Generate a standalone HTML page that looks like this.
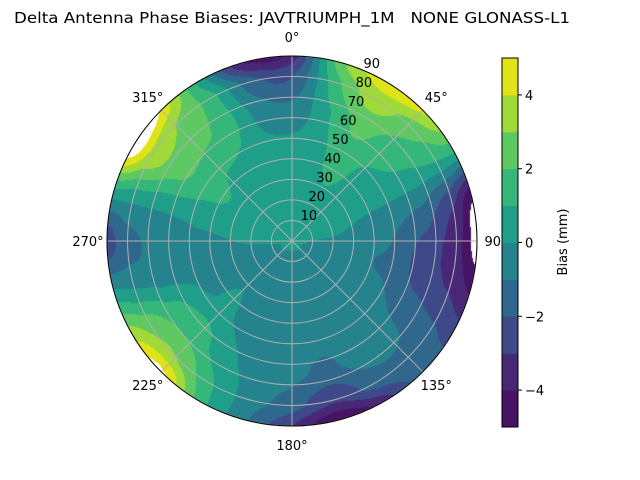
<!DOCTYPE html>
<html><head><meta charset="utf-8"><style>
html,body{margin:0;padding:0;background:#fff;}
#wrap{position:relative;width:640px;height:480px;overflow:hidden;}
canvas,svg{position:absolute;left:0;top:0;}
text{font-family:"DejaVu Sans","Liberation Sans",sans-serif;font-size:13px;fill:#000;}
</style></head><body>
<div id="wrap">
<canvas id="cv" width="640" height="480"></canvas>
<svg id="sv" width="640" height="480" xmlns="http://www.w3.org/2000/svg"></svg>
</div>
<script>
// grid data: azimuth nodes (deg), zenith nodes (deg), bias values (mm) per zenith ring
const azNodes = [0,15,30,45,60,75,90,105,120,135,150,165,180,195,210,225,240,255,270,285,300,315,330,345];
const zenNodes = [0, 20, 45, 65, 80, 90];
const bias0  = [0.1,0.1,0.1,0.1,0.1,0.1,0.1,0.1,0.1,0.1,0.1,0.1,0.1,0.1,0.1,0.1,0.1,0.1,0.1,0.1,0.1,0.1,0.1,0.1];
const bias20 = [0.5,0.5,0.6,0.5,0.4,0.2,-0.1,-0.3,-0.4,-0.4,-0.4,-0.4,-0.4,-0.4,-0.4,-0.3,-0.3,-0.3,0.1,0.3,0.5,0.5,0.5,0.5];
const bias45 = [0.4,0.6,1.5,0.8,0.5,-0.3,-0.8,-1.1,-0.7,-0.4,-0.4,-0.5,-0.5,-0.4,-0.3,0.2,-0.2,-0.4,-0.2,0.3,1.2,1.0,0.8,0.4];
const bias65 = [-0.8,0.8,2.2,1.6,0.8,-1.0,-2.2,-2.3,-1.6,-0.7,-0.6,-1.2,-0.7,-0.3,0.3,1.5,1.3,-0.5,-0.6,0.2,2.2,2.2,1.6,-0.3];
const bias80 = [-2.0,1.5,3.5,2.5,1.2,-2.5,-3.5,-3.2,-2.0,-1.3,-1.5,-2.8,-1.5,-0.5,1.2,3.0,2.5,-0.3,-1.3,0.3,3.6,3.0,1.5,-1.5];
const bias90 = [-3.5,2.5,4.5,4.2,1.5,-4.5,-5.5,-4.2,-2.5,-1.5,-3.5,-4.8,-3.0,-0.8,1.5,5.2,3.5,0.0,-2.5,0.5,5.8,4.8,0.5,-4.0];
const levels = [-5,-4,-3,-2,-1,0,1,2,3,4,5];
const colors = ['#471365','#482777','#3e4989','#30678d','#25838e','#1f9e89','#35b779','#5ec962','#a0da39','#dfe318'];
const ringVals = [10,20,30,40,50,60,70,80,90];
const angVals = [0,45,90,135,180,225,270,315];
const cbTicks = [-4,-2,0,2,4];

const rings=[bias0,bias20,bias45,bias65,bias80,bias90];
const CX=292, CY=241, R=185, ZMAX=90;
function rScale(z){return z/ZMAX*R;}
function polar(az,z){const r=rScale(z),a=az*Math.PI/180;return [CX+r*Math.sin(a),CY-r*Math.cos(a)];}
function azInterp(arr,az){
  const n=azNodes.length, step=360/n, f=az/step, i=Math.floor(f), t=f-i;
  const p0=arr[(i-1+n)%n],p1=arr[i%n],p2=arr[(i+1)%n],p3=arr[(i+2)%n];
  return 0.5*((2*p1)+(-p0+p2)*t+(2*p0-5*p1+4*p2-p3)*t*t+(-p0+3*p1-3*p2+p3)*t*t*t);
}
function field(az,z){
  let j=0; while(j<zenNodes.length-2 && z>zenNodes[j+1]) j++;
  const t=(z-zenNodes[j])/(zenNodes[j+1]-zenNodes[j]);
  const s=t*t*(3-2*t)*0.5+t*0.5;
  return azInterp(rings[j],az)*(1-s)+azInterp(rings[j+1],az)*s;
}
const cv=document.getElementById('cv'),ctx=cv.getContext('2d');
const img=ctx.createImageData(640,480);
function hex(c){return [parseInt(c.slice(1,3),16),parseInt(c.slice(3,5),16),parseInt(c.slice(5,7),16)];}
const rgb=colors.map(hex);
for(let py=0;py<480;py++)for(let px=0;px<640;px++){
  const k=(py*640+px)*4;
  const dx=px+0.5-CX, dy=py+0.5-CY, r=Math.hypot(dx,dy);
  let c=[255,255,255];
  if(r<=R){
    const z=r/R*ZMAX; let az=Math.atan2(dx,-dy)*180/Math.PI; if(az<0)az+=360;
    const v=field(az,z);
    let idx=-1;
    for(let i=0;i<levels.length-1;i++) if(v>=levels[i]&&v<levels[i+1]) idx=i;
    if(idx>=0)c=rgb[idx];
  }
  img.data[k]=c[0];img.data[k+1]=c[1];img.data[k+2]=c[2];img.data[k+3]=255;
}
ctx.putImageData(img,0,0);

const NS='http://www.w3.org/2000/svg', sv=document.getElementById('sv');
function mk(tag,attrs,parent){const e=document.createElementNS(NS,tag);for(const k in attrs)e.setAttribute(k,attrs[k]);(parent||sv).appendChild(e);return e;}
ringVals.forEach(v=>{
  const c=mk('circle',{cx:CX,cy:CY,r:rScale(v),fill:'none',stroke:'#b0b0b0','stroke-width':1});
  
  
});
angVals.forEach(a=>{
  const p=polar(a,ZMAX);
  const l=mk('line',{x1:CX,y1:CY,x2:p[0],y2:p[1],stroke:'#b0b0b0','stroke-width':1});
  
  
});
const bd=mk('circle',{cx:CX,cy:CY,r:R,fill:'none',stroke:'#000','stroke-width':1});


ringVals.forEach(v=>{
  const p=polar(22.5,v);
  const t=mk('text',{x:p[0]+9,y:p[1]-2,'text-anchor':'middle'});t.textContent=v;
  
  
});
angVals.forEach(a=>{
  const p=polar(a,ZMAX*204/185);
  const t=mk('text',{x:p[0],y:p[1]+5,'text-anchor':'middle'});t.textContent=a+'°';
  
  
});
const CBX=502,CBW=16,CBT=58,CBB=427;
function cbY(v){return CBB-(v-levels[0])/(levels[levels.length-1]-levels[0])*(CBB-CBT);}
for(let i=0;i<colors.length;i++){
  const r=mk('rect',{x:CBX,y:cbY(levels[i+1]),width:CBW,height:cbY(levels[i])-cbY(levels[i+1])+0.5,fill:colors[i]});
  
  
}
const cf=mk('rect',{x:CBX,y:CBT,width:CBW,height:CBB-CBT,fill:'none',stroke:'#000','stroke-width':1});


cbTicks.forEach(v=>{
  const y=cbY(v);
  const l=mk('line',{x1:CBX+CBW,y1:y,x2:CBX+CBW+4,y2:y,stroke:'#000'});
  
  
  const t=mk('text',{x:CBX+CBW+7,y:y+5});t.textContent=(v<0?'\u2212'+(-v):v);
  
  
});
const bl=mk('text',{x:567,y:242,'text-anchor':'middle',transform:'rotate(-90 567 242)'});bl.textContent='Bias (mm)';


const tt=mk('text',{x:14,y:23,textLength:556,lengthAdjust:'spacingAndGlyphs',style:'font-size:15px;white-space:pre','xml:space':'preserve'});
tt.textContent='Delta Antenna Phase Biases: JAVTRIUMPH_1M   NONE GLONASS-L1';


</script>
</body></html>
